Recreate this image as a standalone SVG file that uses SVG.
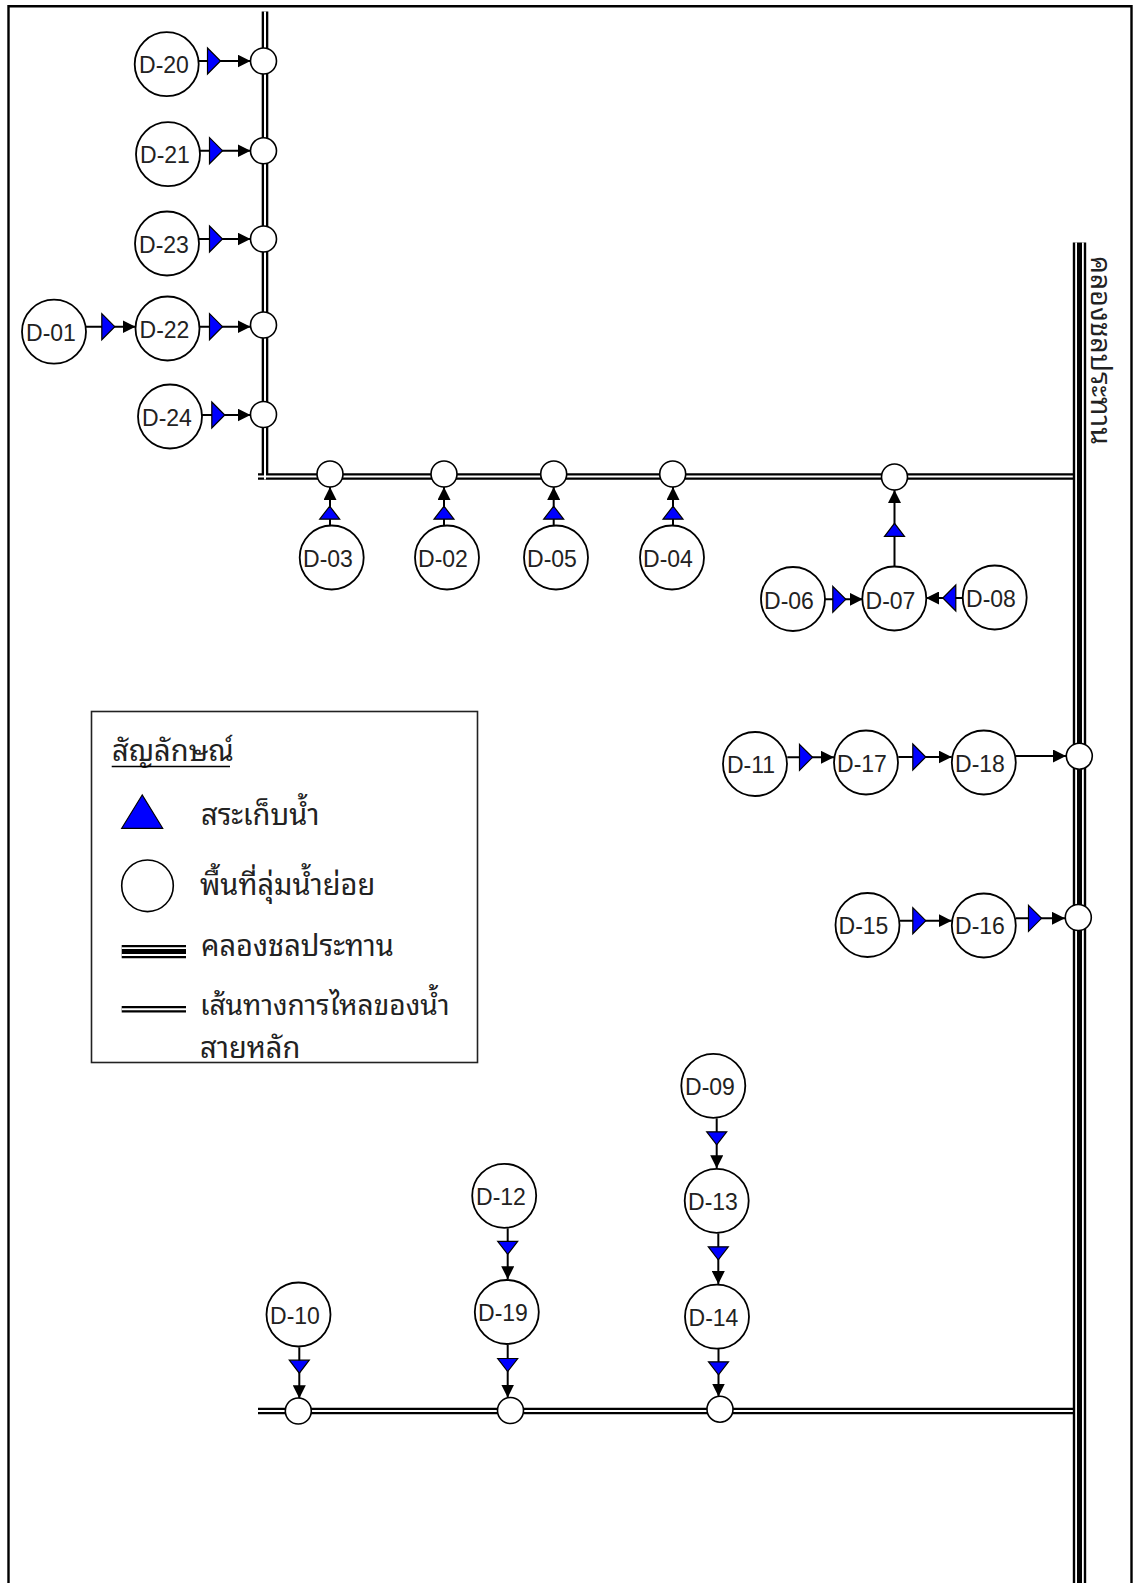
<svg xmlns="http://www.w3.org/2000/svg" width="1135" height="1583" viewBox="0 0 1135 1583">
  <style>
    .node circle { fill: #fff; stroke: #000; stroke-width: 1.8; }
    .node text { font-family: "Liberation Sans", Arial, sans-serif; font-size: 23px; fill: #222; text-anchor: middle; }
    .jn { fill: #fff; stroke: #000; stroke-width: 1.6; }
    .flow-b { fill: none; stroke: #000; stroke-width: 6.6; }
    .flow-w { fill: none; stroke: #fff; stroke-width: 2; }
    .canal-b { fill: none; stroke: #000; stroke-width: 13.4; }
    .canal-w { fill: none; stroke: #fff; stroke-width: 1.8; }
    .link { fill: none; stroke: #000; stroke-width: 2; marker-end: url(#arrow); }
    .tank { fill: #0000ff; stroke: #000; stroke-width: 1.2; }
    .th { font-family: "Noto Sans Thai Looped", "Noto Serif Thai", "Noto Sans Thai", Tahoma, Loma, Garuda, "DejaVu Sans", sans-serif; font-size: 29px; fill: #222; }
  </style>
  <defs>
    <marker id="arrow" markerUnits="userSpaceOnUse" markerWidth="13" markerHeight="13" refX="13" refY="6.5" orient="auto">
      <path d="M0,0 L13,6.5 L0,13 Z" fill="#000"/>
    </marker>
    <polygon id="tank-r" class="tank" points="-6.5,-13 6.5,0 -6.5,13"/>
    <polygon id="tank-l" class="tank" points="6.5,-13 -6.5,0 6.5,13"/>
    <polygon id="tank-u" class="tank" points="-10,6.5 10,6.5 0,-6.5"/>
    <polygon id="tank-d" class="tank" points="-10,-6.5 10,-6.5 0,6.5"/>
  </defs>

  <rect width="1135" height="1583" fill="#fff"/>
  <!-- frame -->
  <path d="M8.5,1583 V6.2 H1131.5 V1583" fill="none" stroke="#000" stroke-width="2.4"/>

  <!-- main flow routes (double line) -->
  <g id="routes">
    <path class="flow-b" d="M265,11.5 V479.5 M258,476.5 H1079"/>
    <path class="flow-w" d="M265,11.5 V479.5 M258,476.5 H1079"/>
    <path class="flow-b" d="M258,1411 H1079"/>
    <path class="flow-w" d="M258,1411 H1079"/>
  </g>

  <!-- irrigation canal (triple line) -->
  <g id="canal">
    <path class="canal-b" d="M1079.5,242.5 V1583"/>
    <path class="canal-w" d="M1076.1,242.5 V1583 M1082.9,242.5 V1583"/>
    <text class="th" style="font-size:28.4px" transform="translate(1091,256) rotate(90)">คลองชลประทาน</text>
  </g>

  <!-- connectors -->
  <g id="connectors">
    <path class="link" d="M198.5,61 H250.5"/>
    <path class="link" d="M200,150.7 H250.5"/>
    <path class="link" d="M199,239 H250.5"/>
    <path class="link" d="M200,326.7 H250.5"/>
    <path class="link" d="M86,326.7 H135.5"/>
    <path class="link" d="M202,415 H250.5"/>

    <path class="link" d="M330,525 V487"/>
    <path class="link" d="M444,525 V487"/>
    <path class="link" d="M553.7,525 V487"/>
    <path class="link" d="M673,525 V487"/>
    <path class="link" d="M894.5,566 V490"/>

    <path class="link" d="M825,599.3 H862.7"/>
    <path class="link" d="M962.7,598 H926"/>

    <path class="link" d="M787.3,757.3 H834"/>
    <path class="link" d="M898.3,757 H951.7"/>
    <path class="link" d="M1016,756 H1066"/>
    <path class="link" d="M900,920.7 H951.7"/>
    <path class="link" d="M1016,918.3 H1065"/>

    <path class="link" d="M299.3,1347.3 V1398.3"/>
    <path class="link" d="M507.7,1228.3 V1279.3"/>
    <path class="link" d="M507.7,1345 V1397.5"/>
    <path class="link" d="M716.7,1118.3 V1168.3"/>
    <path class="link" d="M718.3,1233.3 V1284"/>
    <path class="link" d="M718.5,1348.3 V1396.5"/>

    <!-- retention ponds on the links -->
    <use href="#tank-r" x="214" y="61"/>
    <use href="#tank-r" x="216" y="150.7"/>
    <use href="#tank-r" x="216" y="239"/>
    <use href="#tank-r" x="216" y="326.7"/>
    <use href="#tank-r" x="108.3" y="326.7"/>
    <use href="#tank-r" x="218.3" y="415"/>

    <use href="#tank-u" x="329.7" y="512.7"/>
    <use href="#tank-u" x="444" y="512.7"/>
    <use href="#tank-u" x="553.7" y="512.7"/>
    <use href="#tank-u" x="673" y="512.7"/>
    <use href="#tank-u" x="894.5" y="529.8"/>

    <use href="#tank-r" x="839.3" y="599.3"/>
    <use href="#tank-l" x="949.3" y="598"/>

    <use href="#tank-r" x="806" y="757.3"/>
    <use href="#tank-r" x="919.3" y="757"/>
    <use href="#tank-r" x="919.3" y="920.7"/>
    <use href="#tank-r" x="1035" y="918.3"/>

    <use href="#tank-d" x="299.3" y="1366.7"/>
    <use href="#tank-d" x="507.7" y="1247.8"/>
    <use href="#tank-d" x="507.7" y="1365"/>
    <use href="#tank-d" x="716.7" y="1138.3"/>
    <use href="#tank-d" x="718.3" y="1253.3"/>
    <use href="#tank-d" x="718.5" y="1368.3"/>
  </g>

  <!-- junction points on the routes and canal -->
  <g id="junctions">
    <circle class="jn" cx="263.5" cy="61" r="13"/>
    <circle class="jn" cx="263.5" cy="150.8" r="13"/>
    <circle class="jn" cx="263.5" cy="239" r="13"/>
    <circle class="jn" cx="263.5" cy="325" r="13"/>
    <circle class="jn" cx="263.5" cy="414.5" r="13"/>
    <circle class="jn" cx="330" cy="474" r="13"/>
    <circle class="jn" cx="444" cy="474" r="13"/>
    <circle class="jn" cx="553.7" cy="474" r="13"/>
    <circle class="jn" cx="672.7" cy="474" r="13"/>
    <circle class="jn" cx="894.5" cy="477" r="13"/>
    <circle class="jn" cx="1079.3" cy="756.2" r="13"/>
    <circle class="jn" cx="1078.3" cy="917.5" r="13"/>
    <circle class="jn" cx="298.3" cy="1411" r="13"/>
    <circle class="jn" cx="510.5" cy="1410.5" r="13"/>
    <circle class="jn" cx="720" cy="1409.2" r="13"/>
  </g>

  <!-- sub-catchments -->
  <g id="D-20" class="node"><circle cx="166.7" cy="64.2" r="32"/><text x="164" y="73">D-20</text></g>
  <g id="D-21" class="node"><circle cx="168" cy="154.2" r="32"/><text x="165" y="163">D-21</text></g>
  <g id="D-23" class="node"><circle cx="167" cy="243.5" r="32"/><text x="164" y="252.5">D-23</text></g>
  <g id="D-22" class="node"><circle cx="167.5" cy="328.5" r="32"/><text x="164.5" y="337.5">D-22</text></g>
  <g id="D-01" class="node"><circle cx="54" cy="331.7" r="32"/><text x="51" y="340.7">D-01</text></g>
  <g id="D-24" class="node"><circle cx="170" cy="416.5" r="32"/><text x="167" y="425.5">D-24</text></g>

  <g id="D-03" class="node"><circle cx="331.7" cy="557.5" r="32"/><text x="328" y="567">D-03</text></g>
  <g id="D-02" class="node"><circle cx="447" cy="557.5" r="32"/><text x="443" y="567">D-02</text></g>
  <g id="D-05" class="node"><circle cx="556" cy="557.5" r="32"/><text x="552" y="567">D-05</text></g>
  <g id="D-04" class="node"><circle cx="672" cy="557.5" r="32"/><text x="668" y="567">D-04</text></g>

  <g id="D-06" class="node"><circle cx="793" cy="599" r="32"/><text x="789" y="608.5">D-06</text></g>
  <g id="D-07" class="node"><circle cx="894.3" cy="598.5" r="32"/><text x="890.5" y="608.5">D-07</text></g>
  <g id="D-08" class="node"><circle cx="994.7" cy="597.5" r="32"/><text x="991" y="607">D-08</text></g>

  <g id="D-11" class="node"><circle cx="755" cy="764" r="32"/><text x="751" y="773">D-11</text></g>
  <g id="D-17" class="node"><circle cx="866" cy="762.5" r="32"/><text x="862" y="772">D-17</text></g>
  <g id="D-18" class="node"><circle cx="983.8" cy="762.5" r="32"/><text x="980" y="772">D-18</text></g>

  <g id="D-15" class="node"><circle cx="867.5" cy="925" r="32"/><text x="863.5" y="934">D-15</text></g>
  <g id="D-16" class="node"><circle cx="983.8" cy="925.5" r="32"/><text x="980" y="934">D-16</text></g>

  <g id="D-09" class="node"><circle cx="713.3" cy="1085.8" r="32"/><text x="710" y="1095">D-09</text></g>
  <g id="D-13" class="node"><circle cx="716.7" cy="1200.8" r="32"/><text x="713" y="1210">D-13</text></g>
  <g id="D-14" class="node"><circle cx="717" cy="1316.7" r="32"/><text x="713.5" y="1326">D-14</text></g>
  <g id="D-12" class="node"><circle cx="504.2" cy="1195.8" r="32"/><text x="501" y="1205">D-12</text></g>
  <g id="D-19" class="node"><circle cx="506.8" cy="1312" r="32"/><text x="503" y="1321">D-19</text></g>
  <g id="D-10" class="node"><circle cx="298.5" cy="1314.5" r="32"/><text x="295" y="1323.5">D-10</text></g>

  <!-- legend -->
  <g id="legend">
    <rect x="91.5" y="711.5" width="386" height="351" fill="#fff" stroke="#222" stroke-width="1.6"/>
    <text class="th" x="112" y="761">สัญลักษณ์</text>
    <line x1="111.7" y1="766.5" x2="230" y2="766.5" stroke="#000" stroke-width="1.5"/>

    <polygon class="tank" points="142.2,795 121.7,828.3 162.7,828.3"/>
    <text class="th" x="201" y="825">สระเก็บน้ำ</text>

    <circle cx="147.5" cy="885.8" r="25.8" fill="#fff" stroke="#000" stroke-width="1.6"/>
    <text class="th" x="200" y="895">พื้นที่ลุ่มน้ำย่อย</text>

    <path class="canal-b" d="M121.7,951.6 H186"/>
    <path class="canal-w" d="M121.7,948.2 H186 M121.7,955 H186"/>
    <text class="th" x="201" y="956">คลองชลประทาน</text>

    <path class="flow-b" d="M121.7,1009.2 H186"/>
    <path class="flow-w" d="M121.7,1009.2 H186"/>
    <text class="th" x="200" y="1015" style="font-size:28.1px">เส้นทางการไหลของน้ำ</text>
    <text class="th" x="200" y="1058">สายหลัก</text>
  </g>
</svg>
